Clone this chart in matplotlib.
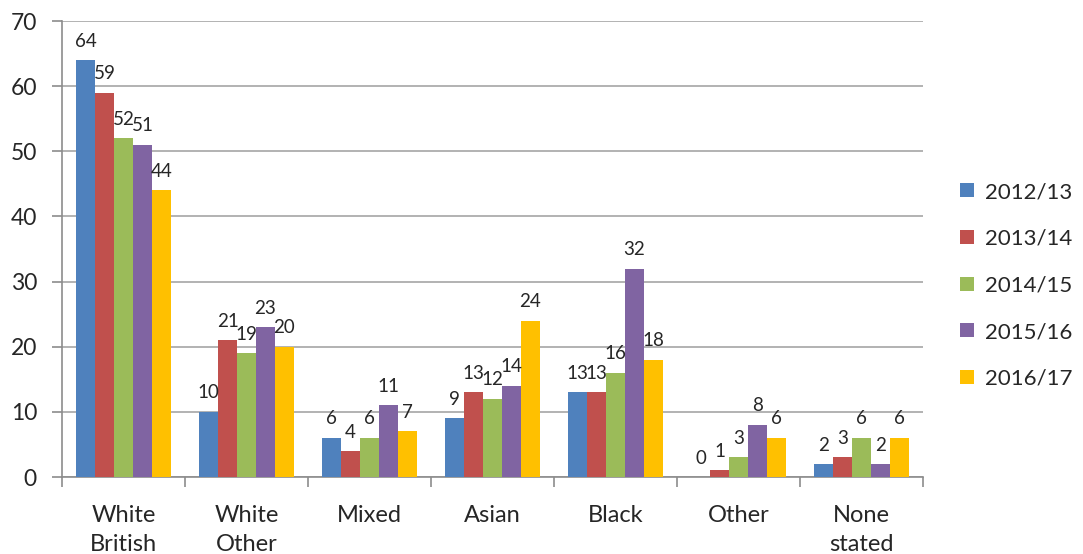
import matplotlib
matplotlib.use("Agg")
import matplotlib.pyplot as plt
import numpy as np

plt.rcParams['font.family'] = ['Lato', 'DejaVu Sans']

categories = ["White\nBritish", "White\nOther", "Mixed", "Asian", "Black", "Other", "None\nstated"]
years = ["2012/13", "2013/14", "2014/15", "2015/16", "2016/17"]
values = {
    "2012/13": [64, 10, 6, 9, 13, 0, 2],
    "2013/14": [59, 21, 4, 13, 13, 1, 3],
    "2014/15": [52, 19, 6, 12, 16, 3, 6],
    "2015/16": [51, 23, 11, 14, 32, 8, 2],
    "2016/17": [44, 20, 7, 24, 18, 6, 6],
}
colors = ["#4F81BD", "#C0504D", "#9BBB59", "#8064A2", "#FFC000"]

fig = plt.figure(figsize=(10.83, 5.54), dpi=100)
ax = fig.add_axes([62 / 1083, 1 - 477 / 554, (923 - 62) / 1083, (477 - 21) / 554])

n = len(years)
bw = 1 / (n + 1.5)
x = np.arange(len(categories))
for i, yr in enumerate(years):
    pos = x - (n - 1) / 2 * bw + i * bw
    bars = ax.bar(pos, values[yr], width=bw, color=colors[i], label=yr, zorder=3)
    for b, v in zip(bars, values[yr]):
        ax.annotate(str(v), (b.get_x() + b.get_width() / 2, v), xytext=(0, 7.5),
                    textcoords="offset points", ha="center", va="bottom",
                    fontsize=13.5, color="#262626", zorder=4)

ax.set_xlim(-0.5, len(categories) - 0.5)
ax.set_ylim(0, 70)
ax.set_yticks(range(0, 71, 10))
ax.yaxis.grid(True, color="#A6A6A6", linewidth=1.2, zorder=0)
ax.set_axisbelow(True)

# category separators as minor ticks
ax.set_xticks(np.arange(-0.5, len(categories), 1), minor=True)
ax.set_xticks(x)
ax.set_xticklabels(categories, fontsize=17, color="#262626", linespacing=1.5)
ax.tick_params(axis="x", which="major", length=0, pad=20)
ax.tick_params(axis="x", which="minor", length=7, color="#8C8C8C", width=1.2)
ax.tick_params(axis="y", length=7, color="#8C8C8C", width=1.2, labelsize=16.5,
               labelcolor="#262626", pad=11)

for s in ["top", "right"]:
    ax.spines[s].set_visible(False)
for s in ["left", "bottom"]:
    ax.spines[s].set_color("#8C8C8C")
    ax.spines[s].set_linewidth(1.2)

ax.legend(loc="center left", bbox_to_anchor=(1.02, 0.42), frameon=False,
          fontsize=16, handlelength=0.6, handleheight=0.6, handletextpad=0.5,
          labelspacing=1.2, labelcolor="#262626")

fig.savefig("out.png", dpi=100)
